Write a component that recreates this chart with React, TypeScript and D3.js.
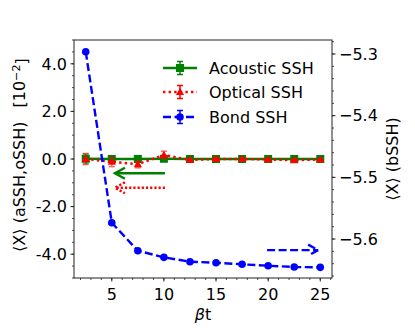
import * as d3 from 'd3'

const betaT = [2.5, 5, 7.5, 10, 12.5, 15, 17.5, 20, 22.5, 25]
const acoustic = [0.01, 0.0, 0.0, 0.01, 0.0, 0.0, 0.0, 0.0, 0.0, 0.0]
const acousticErr = [0.2, 0.12, 0.1, 0.08, 0.05, 0.05, 0.04, 0.04, 0.04, 0.04]
const optical = [0.0, -0.12, -0.22, 0.17, -0.04, 0.0, 0.0, -0.02, -0.05, -0.02]
const opticalErr = [0.23, 0.2, 0.15, 0.16, 0.05, 0.04, 0.04, 0.04, 0.04, 0.04]
const bond = [-5.2963, -5.5736, -5.619, -5.6297, -5.6368, -5.6384, -5.641, -5.6433, -5.6454, -5.6459]

const xTicks = [5, 10, 15, 20, 25]
const leftTicks = [-4, -2, 0, 2, 4]
const leftTickLabels = ['-4.0', '-2.0', '0.0', '2.0', '4.0']
const rightTicks = [-5.6, -5.5, -5.4, -5.3]
const rightTickLabels = ['\u22125.6', '\u22125.5', '\u22125.4', '\u22125.3']

const legendNames = ['Acoustic SSH', 'Optical SSH', 'Bond SSH']

// arrows: data units (x, left axis for green/red, right axis for blue)
const arrows = [
  { from: [10.1, -0.6], to: [5.3, -0.6], axis: 'left', color: 'green', dash: '' },
  { from: [10.1, -1.21], to: [5.3, -1.21], axis: 'left', color: 'red', dash: '2.2,2' },
  { from: [19.9, -5.618], to: [24.8, -5.618], axis: 'right', color: 'blue', dash: '8,3.5' },
]

const left = 74
const right = 332
const top = 40
const bottom = 278
const font = 'DejaVu Sans, sans-serif'
const fs = 16
const lw = 2.4

const App = () => {
  const x = d3.scaleLinear().domain([1.375, 26.125]).range([left, right])
  const yL = d3.scaleLinear().domain([-5, 5]).range([bottom, top])
  const yR = d3.scaleLinear().domain([-5.6632, -5.2773]).range([bottom, top])

  const xMinor = d3.range(2, 27, 1)
  const lMinor = d3.range(-5, 5.01, 0.5)
  const rMinor = d3.range(-5.66, -5.279, 0.02)

  const lineAc = d3.line<number>().x((d, i) => x(betaT[i])).y(d => yL(d))
  const lineB = d3.line<number>().x((d, i) => x(betaT[i])).y(d => yR(d))

  const errBar = (xv: number, yv: number, e: number, c: string, k: string) => (
    <g key={k} stroke={c} strokeWidth={1.5} opacity={0.6}>
      <line x1={x(xv)} x2={x(xv)} y1={yL(yv - e)} y2={yL(yv + e)} />
      <line x1={x(xv) - 3} x2={x(xv) + 3} y1={yL(yv - e)} y2={yL(yv - e)} />
      <line x1={x(xv) - 3} x2={x(xv) + 3} y1={yL(yv + e)} y2={yL(yv + e)} />
    </g>
  )

  const tri = (cx: number, cy: number, r: number) =>
    `M${cx},${cy - r} L${cx + r * 0.95},${cy + r * 0.7} L${cx - r * 0.95},${cy + r * 0.7} Z`

  const legY = [68, 92, 117]

  return (
    <svg width={415} height={332} style={{ position: 'absolute', left: 0, top: 0 }} fontFamily={font}>
      <rect width={415} height={332} fill="white" />

      {/* acoustic */}
      <path d={lineAc(acoustic) || ''} fill="none" stroke="green" strokeWidth={lw} />
      {acoustic.map((v, i) => errBar(betaT[i], v, acousticErr[i], 'green', 'ae' + i))}
      {acoustic.map((v, i) => (
        <rect key={'as' + i} x={x(betaT[i]) - 4} y={yL(v) - 4} width={8} height={8} fill="green" />
      ))}

      {/* optical */}
      <path d={lineAc(optical) || ''} fill="none" stroke="red" strokeWidth={lw} strokeDasharray="2.4,3.2" />
      {optical.map((v, i) => errBar(betaT[i], v, opticalErr[i], 'red', 'oe' + i))}
      {optical.map((v, i) => (
        <path key={'ot' + i} d={tri(x(betaT[i]), yL(v), 4.3)} fill="red" />
      ))}

      {/* bond */}
      <path d={lineB(bond) || ''} fill="none" stroke="blue" strokeWidth={lw} strokeDasharray="8,3.5" />
      {bond.map((v, i) => (
        <circle key={'bc' + i} cx={x(betaT[i])} cy={yR(v)} r={3.8} fill="blue" />
      ))}

      {/* arrows */}
      {arrows.map((a, i) => {
        const ys = a.axis === 'left' ? yL : yR
        const x1 = x(a.from[0]), y1 = ys(a.from[1])
        const x2 = x(a.to[0]), y2 = ys(a.to[1])
        const dir = x2 > x1 ? -1 : 1
        return (
          <g key={'ar' + i} stroke={a.color} strokeWidth={lw} fill="none" strokeDasharray={a.dash}>
            <line x1={x1} y1={y1} x2={x2} y2={y2} />
            <path d={`M${x2 + dir * 10},${y2 - 5.5} L${x2},${y2} L${x2 + dir * 10},${y2 + 5.5}`} />
          </g>
        )
      })}

      {/* frame */}
      <rect x={left} y={top} width={right - left} height={bottom - top} fill="none" stroke="#222" strokeWidth={1} />

      {/* x axis */}
      {xMinor.map(t => (
        <line key={'xm' + t} x1={x(t)} x2={x(t)} y1={bottom} y2={bottom + 2} stroke="#222" strokeWidth={0.8} />
      ))}
      {xTicks.map(t => (
        <g key={'xt' + t}>
          <line x1={x(t)} x2={x(t)} y1={bottom} y2={bottom + 3.5} stroke="#222" strokeWidth={1} />
          <text x={x(t)} y={299.5} textAnchor="middle" fontSize={fs}>{t}</text>
        </g>
      ))}
      <text x={(left + right) / 2} y={320} textAnchor="middle" fontSize={fs}>
        <tspan fontStyle="italic">β</tspan>t
      </text>

      {/* left axis */}
      {lMinor.map(t => (
        <line key={'lm' + t} x1={left - 2} x2={left} y1={yL(t)} y2={yL(t)} stroke="#222" strokeWidth={0.8} />
      ))}
      {leftTicks.map((t, i) => (
        <g key={'lt' + t}>
          <line x1={left - 3.5} x2={left} y1={yL(t)} y2={yL(t)} stroke="#222" strokeWidth={1} />
          <text x={left - 7} y={yL(t)} dy="0.36em" textAnchor="end" fontSize={fs}>{leftTickLabels[i]}</text>
        </g>
      ))}
      <text transform={`translate(25,155) rotate(-90)`} textAnchor="middle" fontSize={fs}>
        ⟨X⟩ (aSSH,oSSH)<tspan dx={14}>[10</tspan><tspan dy="-0.45em" fontSize={fs * 0.7}>−2</tspan><tspan dy="0.45em">]</tspan>
      </text>

      {/* right axis */}
      {rMinor.map(t => (
        <line key={'rm' + t} x1={right} x2={right + 2} y1={yR(t)} y2={yR(t)} stroke="#222" strokeWidth={0.8} />
      ))}
      {rightTicks.map((t, i) => (
        <g key={'rt' + t}>
          <line x1={right} x2={right + 3.5} y1={yR(t)} y2={yR(t)} stroke="#222" strokeWidth={1} />
          <text x={right + 7} y={yR(t)} dy="0.36em" textAnchor="start" fontSize={fs}>{rightTickLabels[i]}</text>
        </g>
      ))}
      <text transform={`translate(398,159) rotate(-90)`} textAnchor="middle" fontSize={fs}>
        ⟨X⟩ (bSSH)
      </text>

      {/* legend */}
      {legendNames.map((n, i) => {
        const cy = legY[i]
        const c = ['green', 'red', 'blue'][i]
        const dash = ['', '2.4,3.2', '8,3.5'][i]
        const cx = 180
        return (
          <g key={'lg' + i}>
            <line x1={163} x2={197} y1={cy} y2={cy} stroke={c} strokeWidth={lw} strokeDasharray={dash} />
            <g stroke={c} strokeWidth={1.5}>
              <line x1={cx} x2={cx} y1={cy - 6.5} y2={cy + 6.5} />
              <line x1={cx - 3} x2={cx + 3} y1={cy - 6.5} y2={cy - 6.5} />
              <line x1={cx - 3} x2={cx + 3} y1={cy + 6.5} y2={cy + 6.5} />
            </g>
            {i === 0 && <rect x={cx - 4} y={cy - 4} width={8} height={8} fill={c} />}
            {i === 1 && <path d={tri(cx, cy, 4.3)} fill={c} />}
            {i === 2 && <circle cx={cx} cy={cy} r={3.8} fill={c} />}
            <text x={209} y={cy} dy="0.36em" fontSize={fs}>{n}</text>
          </g>
        )
      })}
    </svg>
  )
}

export default App
